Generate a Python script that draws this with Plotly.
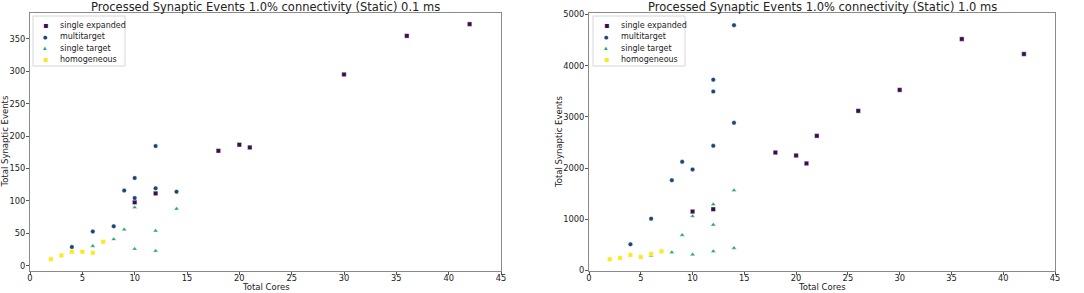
import plotly.graph_objects as go

# ---- data: 0.1 ms ----
se_x_01 = [10, 12, 18, 20, 21, 30, 36, 42]
se_y_01 = [98, 111.7, 177.4, 186.8, 182.6, 295.2, 354.7, 372.8]
mt_x_01 = [4, 6, 8, 9, 10, 10, 12, 12, 14]
mt_y_01 = [29, 53, 61, 116, 135.5, 104.5, 184.7, 119.5, 114.3]
st_x_01 = [4, 6, 8, 9, 10, 10, 12, 12, 14]
st_y_01 = [20, 30.5, 41, 56, 90, 26, 54, 23, 88]
ho_x_01 = [2, 3, 4, 5, 6, 7]
ho_y_01 = [10.3, 16, 21.7, 21.7, 20, 37]

# ---- data: 1.0 ms ----
se_x_10 = [10, 12, 18, 20, 21, 22, 26, 30, 36, 42]
se_y_10 = [1152, 1197, 2304, 2246, 2091, 2630, 3117, 3526, 4519, 4227]
mt_x_10 = [4, 6, 8, 9, 10, 12, 12, 12, 14, 14]
mt_y_10 = [511, 1013, 1764, 2123, 1974, 2434, 3727, 3494, 4790, 2883]
st_x_10 = [6, 8, 9, 10, 10, 12, 12, 12, 14, 14]
st_y_10 = [285, 356, 693, 1061, 311, 1294, 893, 375, 1566, 440]
ho_x_10 = [2, 3, 4, 5, 6, 7]
ho_y_10 = [220, 246, 304, 265, 324, 375]

names = ["single expanded", "multitarget", "single target", "homogeneous"]
colors = ["#3b0f4f", "#1a4577", "#22a86a", "#fde725"]
symbols = ["square", "circle", "triangle-up", "square"]
legend_glyphs = ["▪", "●", "▴", "▪"]
glyph_sizes = [8, 5, 7, 8]

FONT = "DejaVu Sans"
W, H = 1084, 293
fig = go.Figure()

sets = [
    ([(se_x_01, se_y_01), (mt_x_01, mt_y_01), (st_x_01, st_y_01), (ho_x_01, ho_y_01)], "x", "y"),
    ([(se_x_10, se_y_10), (mt_x_10, mt_y_10), (st_x_10, st_y_10), (ho_x_10, ho_y_10)], "x2", "y2"),
]
for series, xa, ya in sets:
    for (xs, ys), n, c, s in zip(series, names, colors, symbols):
        fig.add_trace(go.Scatter(
            x=xs, y=ys, mode="markers", name=n, xaxis=xa, yaxis=ya, showlegend=False,
            marker=dict(color=c, symbol=s, size=4.5, line=dict(color="white", width=0.4)),
        ))

axis_common = dict(
    showgrid=False, zeroline=False, showline=True, mirror=True, automargin=False,
    linecolor="#8a8a8a", linewidth=1, ticks="outside", ticklen=3,
    tickcolor="#555", tickfont=dict(family=FONT, size=8.3, color="#222"),
)

XD1 = [30 / W, 501 / W]
XD2 = [589 / W, 1055 / W]
YD = [1 - 271 / H, 1 - 13 / H]

fig.update_layout(
    width=W, height=H,
    margin=dict(l=0, r=0, t=0, b=0, autoexpand=False),
    paper_bgcolor="white", plot_bgcolor="white",
    font=dict(family=FONT, color="#222"),
    showlegend=False,
    xaxis=dict(domain=XD1, range=[0, 45], dtick=5, anchor="y", ticklabelstandoff=-4, **axis_common),
    yaxis=dict(domain=YD, range=[-8, 390], dtick=50, anchor="x", ticklabelstandoff=-1, **axis_common),
    xaxis2=dict(domain=XD2, range=[0, 45], dtick=5, anchor="y2", ticklabelstandoff=-4, **axis_common),
    yaxis2=dict(domain=YD, range=[-9, 5028], dtick=1000, anchor="x2", ticklabelstandoff=-1, **axis_common),
)

anns = []
shapes = []
for xd, txt in [(XD1, "0.1 ms"), (XD2, "1.0 ms")]:
    cx = (xd[0] + xd[1]) / 2
    anns.append(dict(text="Processed Synaptic Events 1.0% connectivity (Static) " + txt,
                     x=cx, y=1 - 7 / H, xref="paper", yref="paper",
                     xanchor="center", yanchor="middle", showarrow=False,
                     font=dict(family=FONT, size=11.5, color="#222")))
    anns.append(dict(text="Total Cores", x=cx, y=1 - 286.5 / H, xref="paper", yref="paper",
                     xanchor="center", yanchor="middle", showarrow=False,
                     font=dict(family=FONT, size=8.5, color="#222")))
for xpx in [4.5, 559]:
    anns.append(dict(text="Total Synaptic Events", x=xpx / W, y=(YD[0] + YD[1]) / 2,
                     xref="paper", yref="paper", xanchor="center", yanchor="middle",
                     textangle=-90, showarrow=False,
                     font=dict(family=FONT, size=8.5, color="#222")))

# legend boxes (one per panel), drawn as a framed box with marker glyph + label rows
for box_l, mk_x, tx_x in [(33, 45, 58), (593, 606, 619)]:
    shapes.append(dict(type="rect", xref="paper", yref="paper",
                       x0=box_l / W, x1=(box_l + 92) / W, y0=1 - 66 / H, y1=1 - 16 / H,
                       line=dict(color="#d6d6d6", width=1), fillcolor="white", layer="above"))
    for i, (n, c, g, gs) in enumerate(zip(names, colors, legend_glyphs, glyph_sizes)):
        yy = 1 - (25 + 11.6 * i) / H
        anns.append(dict(text=g, x=mk_x / W, y=yy, xref="paper", yref="paper",
                         xanchor="center", yanchor="middle", showarrow=False,
                         font=dict(family=FONT, size=gs, color=c)))
        anns.append(dict(text=n, x=tx_x / W, y=yy, xref="paper", yref="paper",
                         xanchor="left", yanchor="middle", showarrow=False,
                         font=dict(family=FONT, size=8, color="#222")))

fig.update_layout(annotations=anns, shapes=shapes)

fig.write_html("out.html", config={"displayModeBar": False},
               post_script="document.body.style.margin='0';")
